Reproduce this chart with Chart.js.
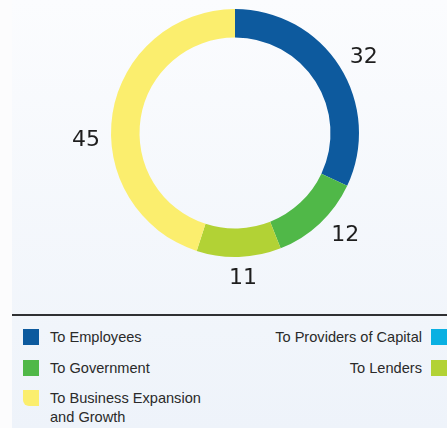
<!DOCTYPE html>
<html lang="en">
<head>
<meta charset="UTF-8">
<script src="https://cdn.jsdelivr.net/npm/chart.js"></script>
<title>Value distribution</title>
<style>
  html, body { margin: 0; padding: 0; }
  body { width: 447px; height: 428px; overflow: hidden; background: #fcfcfd; position: relative; font-family: "Liberation Sans", Arial, sans-serif; }
  .panel { position: absolute; left: 12px; top: 0; width: 435px; height: 428px; background: linear-gradient(#fbfcfe, #eef3fa); overflow: hidden; }
  .chart { position: absolute; left: 0; top: 0; width: 435px; height: 314px; }
  .rule { position: absolute; left: 0; top: 314px; width: 435px; height: 2px; background: #2f3033; }
  .item { position: absolute; font-size: 14.6px; color: #2a2a2a; line-height: 19px; }
  .item .sw { position: absolute; width: 16px; height: 16px; top: 1px; }
  .left .sw { left: -27px; }
  .right .sw { right: -25px; }
  .right { text-align: right; }
</style>
</head>
<body>
<div class="panel">
  <div class="chart"><canvas id="grafico" width="435" height="314"></canvas></div>
  <div class="rule"></div>
  <div id="legenda"></div>
</div>

<script>
const categorias = ['To Employees', 'To Government', 'To Providers of Capital', 'To Lenders', 'To Business Expansion and Growth'];
const valores = [32, 12, 0, 11, 45];
const cores = ['#0d5a9e', '#50b848', '#0ab0e2', '#b2d235', '#fbee6e'];

// legenda: coluna esquerda e direita, como no original
const posLegenda = [
  { lado: 'left', x: 38, y: 328 },
  { lado: 'left', x: 38, y: 359 },
  { lado: 'right', x: 410, y: 328 },
  { lado: 'right', x: 410, y: 359 },
  { lado: 'left', x: 38, y: 389 }
];

const legenda = document.getElementById('legenda');
categorias.forEach(function (nome, i) {
  const p = posLegenda[i];
  const div = document.createElement('div');
  div.className = 'item ' + p.lado;
  div.style.top = p.y + 'px';
  if (p.lado === 'left') {
    div.style.left = p.x + 'px';
  } else {
    div.style.right = (435 - p.x) + 'px';
    div.style.whiteSpace = 'nowrap';
  }
  if (i === 4) div.style.width = '175px';
  div.innerHTML = '<span class="sw" style="background:' + cores[i] + '"></span>' + nome;
  if (i === 4) div.querySelector('.sw').style.borderRadius = '0 0 0 6px';
  legenda.appendChild(div);
});

// ajuste fino dos rotulos (graus e px) pra ficar igual ao original
const ajusteAngulo = [1.6, -4.1, 0, -1.4, -11.3];
const ajusteRaio = [26, 26, 0, 21, 25];

const rotulos = {
  id: 'rotulos',
  afterDraw(chart) {
    const ctx = chart.ctx;
    const meta = chart.getDatasetMeta(0);
    ctx.save();
    ctx.font = '22px "DejaVu Sans"';
    ctx.fillStyle = '#1e1e1e';
    ctx.textAlign = 'center';
    ctx.textBaseline = 'middle';
    meta.data.forEach(function (arc, i) {
      if (!valores[i]) return;
      const meio = (arc.startAngle + arc.endAngle) / 2 + ajusteAngulo[i] * Math.PI / 180;
      const r = arc.outerRadius + ajusteRaio[i];
      ctx.fillText(valores[i], arc.x + Math.cos(meio) * r, arc.y + Math.sin(meio) * r + 1);
    });
    ctx.restore();
  }
};

new Chart(document.getElementById('grafico'), {
  type: 'doughnut',
  data: {
    labels: categorias,
    datasets: [{
      data: valores,
      backgroundColor: cores,
      borderWidth: 0,
      hoverOffset: 0
    }]
  },
  options: {
    responsive: false,
    animation: false,
    cutout: '77%',
    layout: { padding: { top: 9, bottom: 57, left: 11, right: 0 } },
    plugins: {
      legend: { display: false },
      tooltip: { enabled: false }
    }
  },
  plugins: [rotulos]
});
</script>
</body>
</html>
